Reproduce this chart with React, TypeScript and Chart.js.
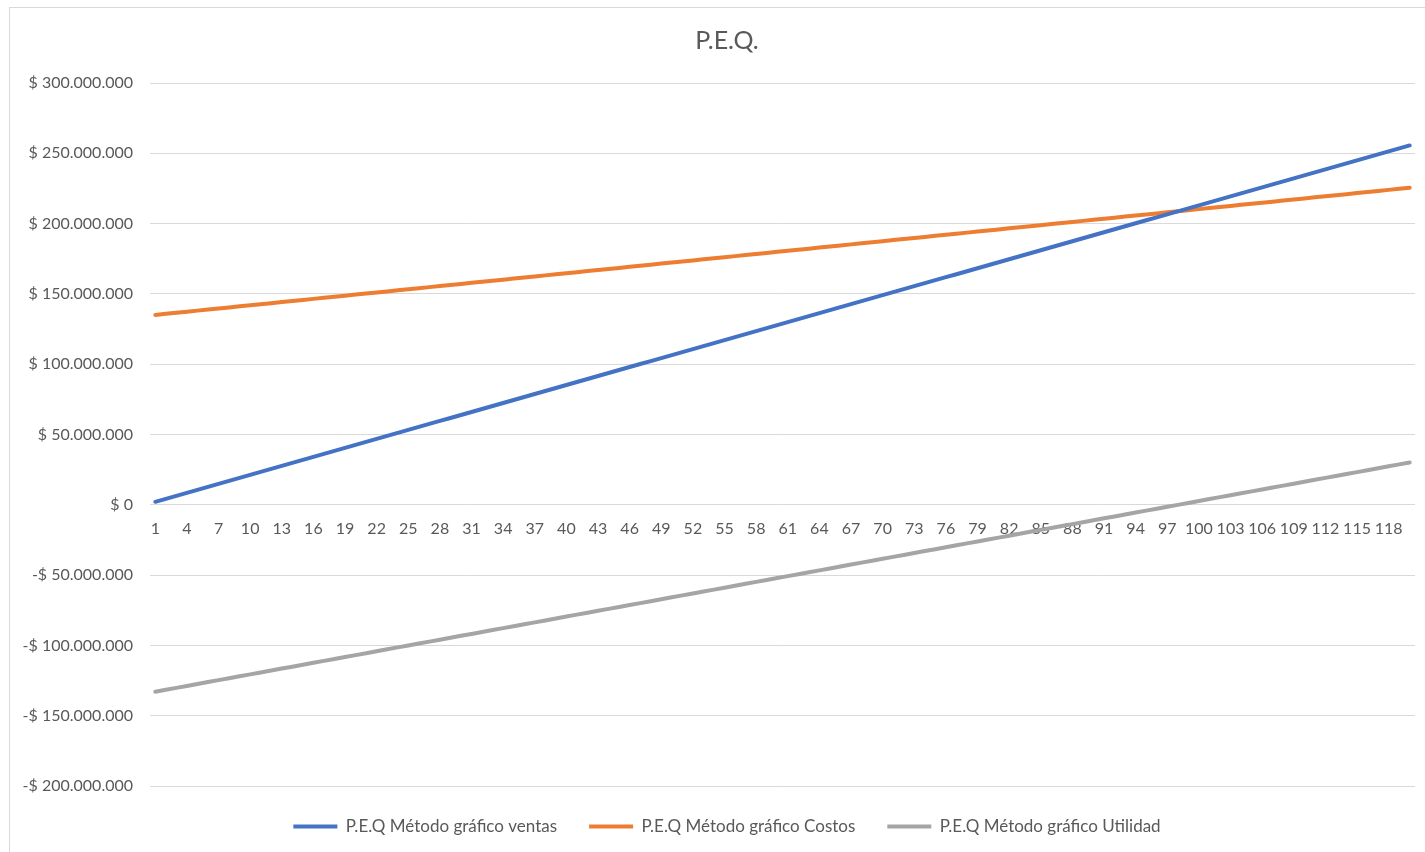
import React, { useEffect, useRef } from "react";
import { Chart, registerables } from "chart.js";

Chart.register(...registerables);

const categories: string[] = [
  "1","2","3","4","5","6","7","8","9","10","11","12","13","14","15","16","17","18","19","20",
  "21","22","23","24","25","26","27","28","29","30","31","32","33","34","35","36","37","38","39","40",
  "41","42","43","44","45","46","47","48","49","50","51","52","53","54","55","56","57","58","59","60",
  "61","62","63","64","65","66","67","68","69","70","71","72","73","74","75","76","77","78","79","80",
  "81","82","83","84","85","86","87","88","89","90","91","92","93","94","95","96","97","98","99","100",
  "101","102","103","104","105","106","107","108","109","110","111","112","113","114","115","116","117","118","119","120",
];

// values in millions of pesos
const ventasM: number[] = [
  2.13, 4.26, 6.39, 8.52, 10.65, 12.78, 14.91, 17.04, 19.17, 21.3,
  23.43, 25.56, 27.69, 29.82, 31.95, 34.08, 36.21, 38.34, 40.47, 42.6,
  44.73, 46.86, 48.99, 51.12, 53.25, 55.38, 57.51, 59.64, 61.77, 63.9,
  66.03, 68.16, 70.29, 72.42, 74.55, 76.68, 78.81, 80.94, 83.07, 85.2,
  87.33, 89.46, 91.59, 93.72, 95.85, 97.98, 100.11, 102.24, 104.37, 106.5,
  108.63, 110.76, 112.89, 115.02, 117.15, 119.28, 121.41, 123.54, 125.67, 127.8,
  129.93, 132.06, 134.19, 136.32, 138.45, 140.58, 142.71, 144.84, 146.97, 149.1,
  151.23, 153.36, 155.49, 157.62, 159.75, 161.88, 164.01, 166.14, 168.27, 170.4,
  172.53, 174.66, 176.79, 178.92, 181.05, 183.18, 185.31, 187.44, 189.57, 191.7,
  193.83, 195.96, 198.09, 200.22, 202.35, 204.48, 206.61, 208.74, 210.87, 213,
  215.13, 217.26, 219.39, 221.52, 223.65, 225.78, 227.91, 230.04, 232.17, 234.3,
  236.43, 238.56, 240.69, 242.82, 244.95, 247.08, 249.21, 251.34, 253.47, 255.6,
];

const costosM: number[] = [
  135.06, 135.82, 136.58, 137.34, 138.1, 138.86, 139.62, 140.38, 141.14, 141.9,
  142.66, 143.42, 144.18, 144.94, 145.7, 146.46, 147.22, 147.98, 148.74, 149.5,
  150.26, 151.02, 151.78, 152.54, 153.3, 154.06, 154.82, 155.58, 156.34, 157.1,
  157.86, 158.62, 159.38, 160.14, 160.9, 161.66, 162.42, 163.18, 163.94, 164.7,
  165.46, 166.22, 166.98, 167.74, 168.5, 169.26, 170.02, 170.78, 171.54, 172.3,
  173.06, 173.82, 174.58, 175.34, 176.1, 176.86, 177.62, 178.38, 179.14, 179.9,
  180.66, 181.42, 182.18, 182.94, 183.7, 184.46, 185.22, 185.98, 186.74, 187.5,
  188.26, 189.02, 189.78, 190.54, 191.3, 192.06, 192.82, 193.58, 194.34, 195.1,
  195.86, 196.62, 197.38, 198.14, 198.9, 199.66, 200.42, 201.18, 201.94, 202.7,
  203.46, 204.22, 204.98, 205.74, 206.5, 207.26, 208.02, 208.78, 209.54, 210.3,
  211.06, 211.82, 212.58, 213.34, 214.1, 214.86, 215.62, 216.38, 217.14, 217.9,
  218.66, 219.42, 220.18, 220.94, 221.7, 222.46, 223.22, 223.98, 224.74, 225.5,
];

const utilidadM: number[] = [
  -132.93, -131.56, -130.19, -128.82, -127.45, -126.08, -124.71, -123.34, -121.97, -120.6,
  -119.23, -117.86, -116.49, -115.12, -113.75, -112.38, -111.01, -109.64, -108.27, -106.9,
  -105.53, -104.16, -102.79, -101.42, -100.05, -98.68, -97.31, -95.94, -94.57, -93.2,
  -91.83, -90.46, -89.09, -87.72, -86.35, -84.98, -83.61, -82.24, -80.87, -79.5,
  -78.13, -76.76, -75.39, -74.02, -72.65, -71.28, -69.91, -68.54, -67.17, -65.8,
  -64.43, -63.06, -61.69, -60.32, -58.95, -57.58, -56.21, -54.84, -53.47, -52.1,
  -50.73, -49.36, -47.99, -46.62, -45.25, -43.88, -42.51, -41.14, -39.77, -38.4,
  -37.03, -35.66, -34.29, -32.92, -31.55, -30.18, -28.81, -27.44, -26.07, -24.7,
  -23.33, -21.96, -20.59, -19.22, -17.85, -16.48, -15.11, -13.74, -12.37, -11,
  -9.63, -8.26, -6.89, -5.52, -4.15, -2.78, -1.41, -0.04, 1.33, 2.7,
  4.07, 5.44, 6.81, 8.18, 9.55, 10.92, 12.29, 13.66, 15.03, 16.4,
  17.77, 19.14, 20.51, 21.88, 23.25, 24.62, 25.99, 27.36, 28.73, 30.1,
];

const seriesNames: string[] = [
  "P.E.Q Método gráfico ventas",
  "P.E.Q Método gráfico Costos",
  "P.E.Q Método gráfico Utilidad",
];

const seriesColors: string[] = ["#4472C4", "#ED7D31", "#A5A5A5"];

const chartTitle = "P.E.Q.";

function formatPesos(v: number): string {
  const abs = Math.round(Math.abs(v));
  const s = abs.toString().replace(/\B(?=(\d{3})+(?!\d))/g, ".");
  return (v < 0 ? "-$ " : "$ ") + s;
}

export default function App() {
  const canvasRef = useRef<HTMLCanvasElement | null>(null);

  useEffect(() => {
    if (!canvasRef.current) return;
    const font = "Lato, 'Open Sans', sans-serif";
    const toPesos = (arr: number[]) => arr.map((v) => v * 1000000);
    const chart = new Chart(canvasRef.current, {
      type: "line",
      data: {
        labels: categories,
        datasets: [ventasM, costosM, utilidadM].map((arr, i) => ({
          label: seriesNames[i],
          data: toPesos(arr),
          borderColor: seriesColors[i],
          backgroundColor: seriesColors[i],
          borderWidth: 4,
          borderCapStyle: "round" as const,
          pointRadius: 0,
          pointHoverRadius: 0,
          tension: 0,
          fill: false,
          yAxisID: "y",
        })),
      },
      options: {
        animation: false,
        responsive: true,
        maintainAspectRatio: false,
        layout: { padding: { left: 10, right: 11, top: 0, bottom: 7 } },
        plugins: {
          title: {
            display: true,
            text: chartTitle,
            color: "#595959",
            font: { family: font, size: 25, weight: "normal" },
            padding: { top: 18, bottom: 27 },
          },
          legend: {
            position: "bottom",
            labels: {
              usePointStyle: true,
              pointStyle: "line",
              pointStyleWidth: 44,
              color: "#595959",
              font: { family: font, size: 17 },
              padding: 32,
            },
          },
          tooltip: { enabled: false },
        },
        scales: {
          x: {
            position: { y: 0 } as any,
            offset: true,
            grid: { display: false, drawTicks: false },
            border: { display: false },
            ticks: {
              autoSkip: false,
              maxRotation: 0,
              minRotation: 0,
              padding: 14,
              color: "#595959",
              font: { family: font, size: 16 },
              callback: (_v: any, index: number) =>
                index % 3 === 0 ? categories[index] : "",
            },
          },
          y: {
            position: "left",
            min: -200000000,
            max: 300000000,
            afterFit: (scale: any) => {
              scale.width = 130;
            },
            grid: { color: "#d9d9d9", lineWidth: 1, drawTicks: false },
            border: { display: false },
            ticks: {
              stepSize: 50000000,
              padding: 17,
              color: "#595959",
              font: { family: font, size: 16 },
              callback: (v: any) => formatPesos(Number(v)),
            },
          },
          yRight: {
            type: "linear",
            position: "right",
            display: true,
            afterFit: (scale: any) => {
              scale.width = 19;
            },
            grid: { display: false, drawTicks: false },
            border: { display: false },
            ticks: { display: false },
          },
        },
      },
    });
    return () => chart.destroy();
  }, []);

  return (
    <div
      style={{
        position: "fixed",
        left: 9,
        top: 7,
        width: 1436,
        height: 845,
        borderLeft: "1px solid #d9d9d9",
        borderTop: "1px solid #d9d9d9",
        boxSizing: "border-box",
        background: "#ffffff",
      }}
    >
      <canvas ref={canvasRef} />
    </div>
  );
}
